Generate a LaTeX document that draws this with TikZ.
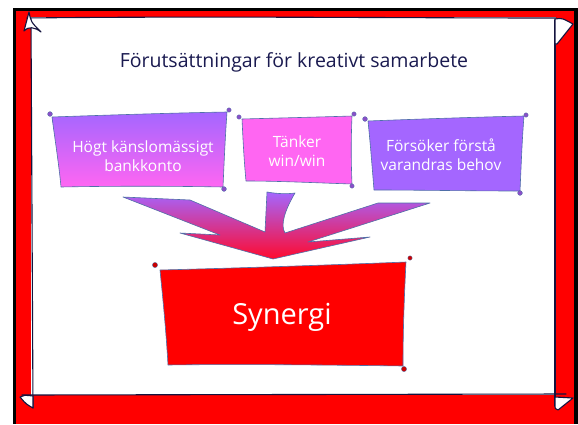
\documentclass[tikz,border=0pt]{standalone}
\usepackage{fontspec}
\setmainfont{Open Sans}
\definecolor{framered}{HTML}{FF0000}
\definecolor{navy}{HTML}{14143F}
\definecolor{boxpurple}{HTML}{A466FF}
\definecolor{boxpink}{HTML}{FF66F2}
\definecolor{edgeblue}{HTML}{4F6FA8}
\definecolor{blob}{HTML}{8A4FC8}
\definecolor{arrowred}{HTML}{FF0A2E}
\definecolor{titlecol}{HTML}{1A1A50}
\tikzset{
  frameline/.style={draw=navy, line width=1.1pt, line cap=round, line join=round},
  curl/.style={frameline, fill=white},
  boxedge/.style={draw=edgeblue, line width=0.6pt, line join=round},
  pin/.style={fill=blob, draw=edgeblue, line width=0.3pt},
  boxtext/.style={text=white, align=center, font=\fontsize{15.5}{19}\selectfont, inner sep=0pt},
  titletext/.style={text=titlecol, font=\fontsize{19.5}{23}\selectfont, inner sep=0pt}
}
\begin{document}
\begin{tikzpicture}[x=1pt,y=-1pt]
\useasboundingbox (0,0) rectangle (578,424);
\fill[white] (0,0) rectangle (578,424);
% outer frame
\fill[black] (13,8) rectangle (578,424);
\fill[framered] (16,11) rectangle (574,424);
\fill[white] (31,17) rectangle (556,395);
% panel border lines
\draw[frameline] (27,18) .. controls (200,16) and (400,18) .. (556,18);
\draw[frameline] (31,20) -- (33,408);
\draw[frameline] (22,395) -- (566,394);
\draw[frameline] (555,20) -- (555,406);
% corner curls
\draw[curl] (24,31) -- (29,12) .. controls (31,22) .. (41,32) .. controls (35,27) and (28,26) .. (24,31);
\draw[curl] (555,19) .. controls (562,18) .. (573,24) -- (557,44) -- (555,44) -- cycle;
\draw[curl] (20,397) .. controls (24,395) .. (33,396) -- (33,408) .. controls (26,404) .. (20,397);
\draw[curl] (555,397) -- (573,398) .. controls (566,404) .. (558,410) .. controls (555,409) .. (555,404) -- cycle;
% title
\node[titletext] (title) at (294,62) {Förutsättningar för kreativt samarbete};
% box 1
\path[boxedge, top color=boxpurple, bottom color=boxpink]
  (52,117) .. controls (110,115) and (170,113) .. (227,112)
  .. controls (225,140) and (224,165) .. (223,187)
  .. controls (170,186) and (110,186) .. (61,187)
  .. controls (59,165) and (55,140) .. cycle;
\fill[pin] (50,114) circle (2.4);
\fill[pin] (229,110) circle (2.2);
\fill[pin] (224,189) circle (2.4);
\node[boxtext] (b1) at (143,156) {Högt känslomässigt\\bankkonto};
% box 2
\path[boxedge, fill=boxpink]
  (242,119) .. controls (280,118) and (320,117) .. (352,116)
  .. controls (351,140) and (351,160) .. (352,184)
  .. controls (320,183) and (280,181) .. (246,181)
  .. controls (244,160) and (243,140) .. cycle;
\fill[pin] (239,117) circle (2.2);
\fill[pin] (354,114) circle (2.2);
\fill[pin] (352,186) circle (2.2);
\node[boxtext] (b2) at (297,151) {Tänker\\win/win};
% box 3
\path[boxedge, fill=boxpurple]
  (368,121) .. controls (420,119) and (480,117) .. (524,116)
  .. controls (522,140) and (521,170) .. (520,191)
  .. controls (470,191) and (420,190) .. (374,190)
  .. controls (372,165) and (370,140) .. cycle;
\fill[pin] (365,119) circle (2.4);
\fill[pin] (526,115) circle (2.2);
\fill[pin] (520,193) circle (2.4);
\node[boxtext] (b3) at (441,155) {Försöker förstå\\varandras behov};
% merging arrow
\path[boxedge, top color=boxpurple, bottom color=arrowred]
  (123,197) -- (190,200) -- (265,232) -- (267,192)
  .. controls (278,194) and (288,194) .. (295,193)
  .. controls (285,210) and (280,225) .. (285,233)
  -- (378,203) -- (430,203) -- (308,242) -- (370,237)
  -- (273,259) -- (180,233) -- (220,235) -- cycle;
% synergi box
\path[boxedge, fill=framered]
  (160,270) .. controls (240,268) and (330,265) .. (406,262)
  .. controls (404,300) and (403,335) .. (403,366)
  .. controls (330,365) and (240,364) .. (168,365)
  .. controls (166,330) and (163,300) .. cycle;
\fill[pin, fill=red!80!black] (155,265) circle (2.6);
\fill[pin, fill=red!80!black] (410,258) circle (2.2);
\fill[pin, fill=red!80!black] (404,369) circle (2.6);
\node[text=white, font=\fontsize{29}{34}\selectfont, inner sep=0pt] (syn) at (282,317) {Synergi};
\end{tikzpicture}
\end{document}
